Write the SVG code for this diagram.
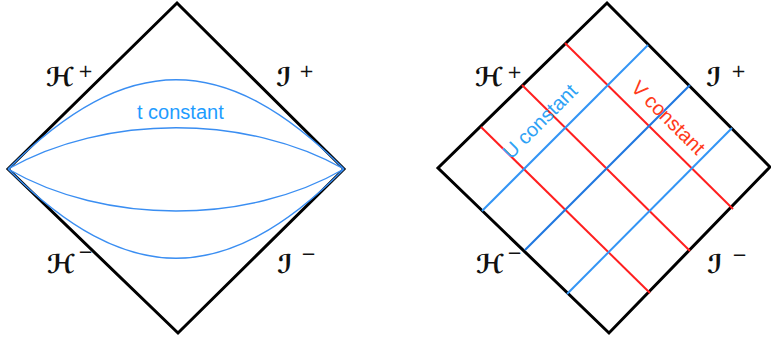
<svg xmlns="http://www.w3.org/2000/svg" width="771" height="342" viewBox="0 0 771 342">
<style>
.edge{fill:none;stroke:#000;stroke-width:3;stroke-linejoin:miter}
.curve{fill:none;stroke:#3a8ef2;stroke-width:1.4}
.red{stroke:#ff1f1f;stroke-width:2}
.blue{stroke:#3395f5;stroke-width:2}
.blue2{stroke:#1f78e0;stroke-width:2.2}
.scr{font-family:"DejaVu Sans",serif;font-style:italic;font-weight:bold;font-size:26px;fill:#111}
.sup{font-family:"DejaVu Sans",sans-serif;font-size:18px;fill:#111}
.lbl{font-family:"Liberation Sans",Arial,sans-serif;font-size:20px}
</style>
<rect width="771" height="342" fill="#fff"/>
<g id="left-diagram">
  <polygon class="edge" points="177,3 344,169 178,333 8,169"/>
  <g id="t-curves">
    <path class="curve" d="M8,169 C127,50 225,50 344,169"/>
    <path class="curve" d="M8,169 C105,114 247,114 344,169"/>
    <path class="curve" d="M8,169 C105,225 247,225 344,169"/>
    <path class="curve" d="M8,169 C127,288 225,288 344,169"/>
  </g>
  <text class="lbl" x="137" y="119" fill="#1e9cff">t constant</text>
  <g id="labels-left">
    <text class="scr" x="46" y="86">ℋ</text><text class="sup" x="78" y="77">+</text>
    <text class="scr" x="47" y="273">ℋ</text><text class="sup" x="78" y="258">−</text>
    <text class="scr" x="276" y="86">ℐ</text><text class="sup" x="299" y="77">+</text>
    <text class="scr" x="277" y="273">ℐ</text><text class="sup" x="301" y="260">−</text>
  </g>
</g>
<g id="right-diagram">
  <polygon class="edge" points="607,3 770,167 609,333 438,168"/>
  <g id="grid-lines">
    <line class="red" x1="565" y1="43" x2="733" y2="209"/>
    <line class="red" x1="522" y1="85" x2="690" y2="251"/>
    <line class="red" x1="481" y1="127" x2="650" y2="293"/>
    <line class="blue" x1="482" y1="211" x2="648" y2="45"/>
    <line class="blue2" x1="525" y1="250" x2="690" y2="85"/>
    <line class="blue" x1="567" y1="294" x2="732" y2="128"/>
  </g>
  <text class="lbl" fill="#2ea2f5" transform="translate(511,160) rotate(-45)">U constant</text>
  <text class="lbl" fill="#ff3a1a" transform="translate(630,89) rotate(45)">V constant</text>
  <g id="labels-right">
    <text class="scr" x="475" y="86">ℋ</text><text class="sup" x="507" y="78">+</text>
    <text class="scr" x="476" y="273">ℋ</text><text class="sup" x="507" y="259">−</text>
    <text class="scr" x="706" y="86">ℐ</text><text class="sup" x="731" y="77">+</text>
    <text class="scr" x="707" y="273">ℐ</text><text class="sup" x="732" y="261">−</text>
  </g>
</g>
</svg>
